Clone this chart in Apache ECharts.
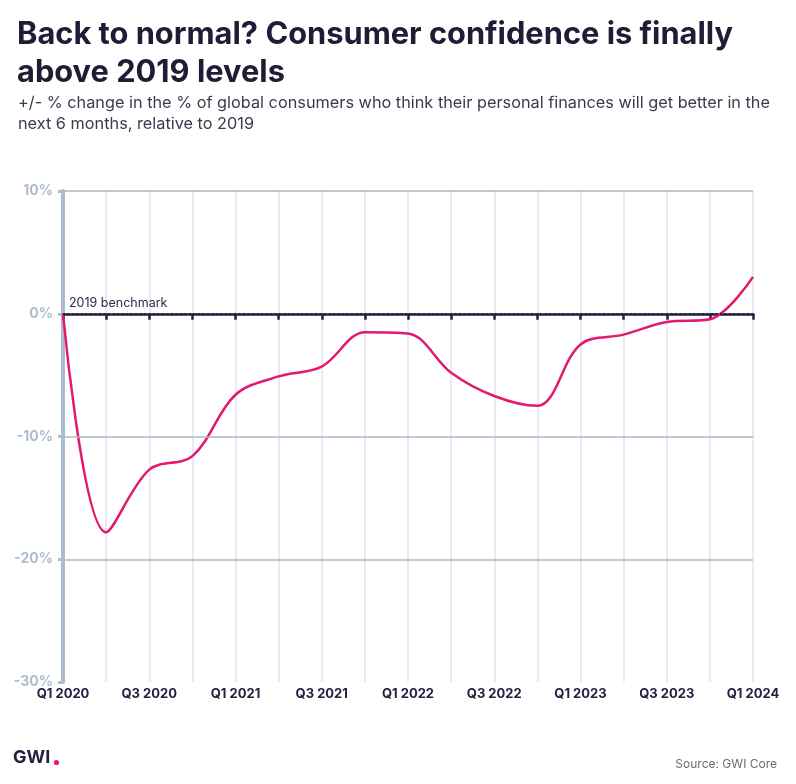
<!DOCTYPE html>
<html><head><meta charset="utf-8">
<script src="https://cdn.jsdelivr.net/npm/echarts@6/dist/echarts.min.js"></script>
<style>html,body{margin:0;padding:0;background:#fff}#c{width:796px;height:784px}</style>
</head><body><div id="c"></div>
<script>
const categories = ['Q1 2020','Q2 2020','Q3 2020','Q4 2020','Q1 2021','Q2 2021','Q3 2021','Q4 2021','Q1 2022','Q2 2022','Q3 2022','Q4 2022','Q1 2023','Q2 2023','Q3 2023','Q4 2023','Q1 2024'];
const values = [0, -17.8, -12.7, -11.6, -6.6, -5.1, -4.3, -1.5, -1.6, -4.8, -6.7, -7.5, -2.5, -1.7, -0.68, -0.45, 3.0];
const gridLevels = [10, -10, -20];
const benchmark = 0;

const chart = echarts.init(document.getElementById('c'));
const F = 'Inter, Lato, sans-serif';
const gridLineStyle = {type: 'solid', color: '#aab8c8', width: 1.5};
chart.setOption({
  animation: false,
  title: [
    {text: 'Back to normal? Consumer confidence is finally\nabove 2019 levels', left: 12, top: 11,
     textStyle: {fontFamily: F, fontWeight: 700, fontSize: 30.8, lineHeight: 38, color: '#1f1d36'}},
    {text: '+/- % change in the % of global consumers who think their personal finances will get better in the\nnext 6 months, relative to 2019', left: 13, top: 88,
     textStyle: {fontFamily: F, fontWeight: 400, fontSize: 16.3, lineHeight: 21, color: '#3b3a4d'}},
    {text: 'Source: GWI Core', right: 14, top: 753, textStyle: {fontFamily: F, fontWeight: 400, fontSize: 12, color: '#6b6a7a'}}
  ],
  graphic: [
    {type: 'text', left: 13, top: 749, style: {text: 'GWI', font: '700 18px ' + F, fill: '#24203f'}},
    {type: 'circle', shape: {cx: 56.5, cy: 762.5, r: 2.6}, style: {fill: '#e8196f'}}
  ],
  grid: {left: 63, right: 43, top: 191, bottom: 102},
  xAxis: {
    type: 'category', data: categories, boundaryGap: false,
    axisLine: {lineStyle: {color: '#24203f', width: 2.5}},
    axisTick: {interval: 0, length: 6, lineStyle: {color: '#24203f', width: 2.5}},
    axisLabel: {interval: 1, color: '#24203f', fontFamily: F, fontWeight: 700, fontSize: 13, margin: 6,
      showMaxLabel: true},
    splitLine: {show: true, interval: 0, lineStyle: {color: '#dde6f2', width: 1.5}}
  },
  yAxis: {
    type: 'value', min: -30, max: 10, interval: 10,
    axisLine: {show: true, lineStyle: {color: '#aebccb', width: 4}},
    axisTick: {show: true, length: 5, lineStyle: {color: '#aebccb', width: 3}},
    axisLabel: {color: '#aebccb', fontFamily: F, fontWeight: 700, fontSize: 14, margin: 10,
      formatter: v => v + '%'},
    splitLine: {show: false}
  },
  series: [{
    type: 'line', data: values, smooth: 0.35, symbol: 'none',
    lineStyle: {color: '#e2196f', width: 2.5},
    markLine: {
      silent: true, symbol: ['none', 'none'],
      label: {show: false},
      data: gridLevels.map(v => ({yAxis: v, lineStyle: gridLineStyle}))
        .concat([{yAxis: benchmark,
          lineStyle: {type: [2, 2.5], color: '#24203f', width: 2},
          label: {show: true, position: 'insideStartTop', formatter: '2019 benchmark',
            color: '#2e2c45', fontFamily: F, fontSize: 12.5, distance: [6, 4]}}])
    },
    z: 3
  }]
});
</script></body></html>
